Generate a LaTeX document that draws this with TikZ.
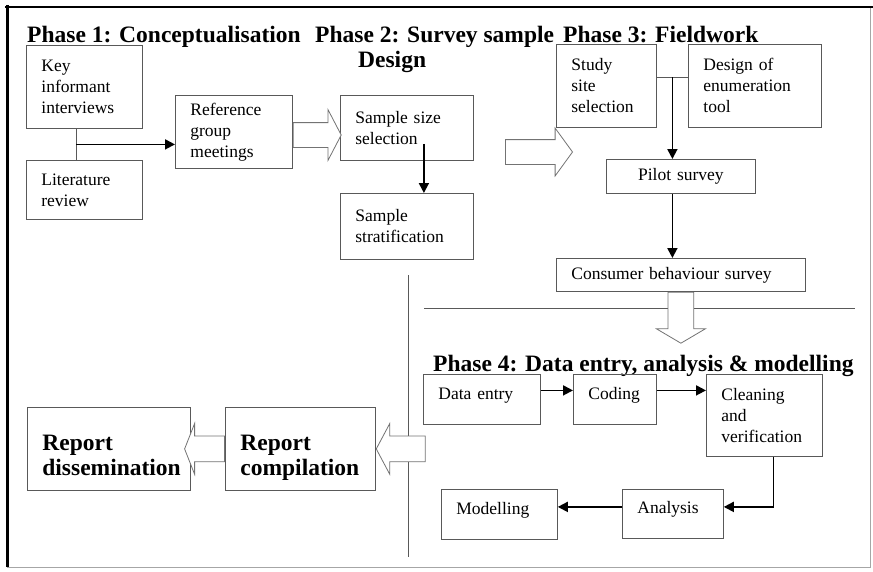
\documentclass[tikz,border=0pt]{standalone}
\usepackage{fontspec}
\setmainfont{Liberation Serif}
\usetikzlibrary{arrows.meta,shapes.arrows,calc}
\hyphenpenalty=10000
\exhyphenpenalty=10000

\begin{document}
\begin{tikzpicture}[x=1pt, y=-1pt,
      kotak/.style={draw=black!65, line width=0.8pt, anchor=north west, align=left,
        inner xsep=15pt, inner ysep=0pt, font=\fontsize{17.5}{21}\selectfont},
      naik/.style={text depth=12pt},
      judul/.style={anchor=base west, align=left, inner sep=0pt,
        font=\fontsize{23.5}{25}\selectfont\bfseries},
      panah/.style={-{Triangle[length=10pt,width=10pt]}, line width=1.8pt},
      garis/.style={draw=black!65, line width=0.8pt},
      blok/.style={single arrow, draw=black!55, line width=0.8pt, fill=white,
        inner xsep=0pt, single arrow head indent=0pt}]
    \useasboundingbox (0,0) rectangle (873,571);
    % bingkai
    \draw[black!35, line width=0.8pt] (7,7) rectangle (870,567);
    \draw[line width=3pt] (7,5) -- (7,567);
    \draw[line width=2pt] (5,7) -- (873,7);
    % judul fase
    \node[judul] (fase1) at (27,42) {Phase 1: Conceptualisation};
    \node[judul, anchor=north west] (fase2) at (315,26) {Phase 2: Survey sample\\\hspace*{43pt}Design};
    \node[judul] (fase3) at (563,42) {Phase 3: Fieldwork};
    \node[judul] (fase4) at (433,371) {Phase 4: Data entry, analysis \& modelling};
    % fase 1 dan 2
    \node[kotak, text width=86pt, minimum height=83pt] (wawancara) at (26,45) {Key\\informant\\interviews};
    \node[kotak, text width=86pt, minimum height=59pt] (literatur) at (26,160) {Literature\\review};
    \node[kotak, text width=87pt, minimum height=73pt] (rapat) at (175,95) {Reference\\group\\meetings};
    \node[kotak, text width=103pt, minimum height=65pt] (ukuran) at (340,95) {Sample size\\selection};
    \node[kotak, text width=103pt, minimum height=66pt] (strata) at (340,193) {Sample\\stratification};
    % fase 3
    \node[kotak, text width=70pt, minimum height=83pt] (lokasi) at (556,44) {Study\\site\\selection};
    \node[kotak, text width=103pt, minimum height=83pt] (alat) at (688,44) {Design of\\enumeration\\tool};
    \node[kotak, align=center, text width=119pt, minimum height=34pt] (pilot) at (606,159) {Pilot survey};
    \node[kotak, text width=219pt, minimum height=33pt] (survei) at (556,258) {Consumer behaviour survey};
    % fase 4
    \node[kotak, naik, text width=87pt, minimum height=50pt] (entri) at (423,374) {Data entry};
    \node[kotak, naik, text width=53pt, minimum height=50pt] (koding) at (573,374) {Coding};
    \node[kotak, text width=86pt, minimum height=82pt] (bersih) at (706,374) {Cleaning\\and\\verification};
    \node[kotak, naik, text width=71pt, minimum height=49pt] (analisis) at (622,489) {Analysis};
    \node[kotak, naik, text width=86pt, minimum height=50pt] (model) at (441,489) {Modelling};
    % laporan
    \node[kotak, naik, font=\fontsize{23.5}{25}\selectfont\bfseries, text width=133pt,
      minimum height=83pt] (diseminasi) at (27,407) {Report\\dissemination};
    \node[kotak, naik, font=\fontsize{23.5}{25}\selectfont\bfseries, text width=120pt,
      minimum height=83pt] (kompilasi) at (225,407) {Report\\compilation};
    % garis pemisah
    \draw[garis] (408,275) -- (408,557);
    \draw[garis] (424,308) -- (855,308);
    % penghubung
    \coordinate (pisah) at ($(wawancara.south)!0.5!(literatur.north)+(-8,0)$);
    \draw[garis] ([xshift=-8pt]wawancara.south) -- ([xshift=-8pt]literatur.north);
    \draw[panah] (pisah) -- (pisah -| rapat.west);
    \coordinate (turun) at ([xshift=17pt,yshift=17pt]ukuran.south);
    \draw[panah] (turun) -- (turun |- strata.north);
    \coordinate (sambung) at ($(lokasi.east)!0.5!(alat.west)+(0,-8.5)$);
    \draw[garis] (lokasi.east |- sambung) -- (alat.west |- sambung);
    \draw[panah] (sambung) -- (sambung |- pilot.north);
    \draw[panah] (pilot.south -| sambung) -- (survei.north -| sambung);
    \coordinate (k1) at ([yshift=9pt]koding.east);
    \draw[panah] ([yshift=9pt]entri.east) -- ([yshift=9pt]koding.west);
    \draw[panah] (k1) -- (k1 -| bersih.west);
    \draw[panah] ([xshift=9pt]bersih.south) |- ([yshift=7pt]analisis.east);
    \coordinate (a1) at ([yshift=7pt]analisis.west);
    \draw[panah] (a1) -- (a1 -| model.east);
    % panah blok
    \node[blok, anchor=tail, minimum height=48pt, inner ysep=12pt, single arrow head extend=13pt,
      single arrow tip angle=125] (blok1) at (rapat.east |- 0,135) {};
    \node[blok, anchor=tip, minimum height=67pt, inner ysep=12pt, single arrow head extend=11.5pt,
      single arrow tip angle=108] (blok2) at (573,152) {};
    \node[blok, anchor=tail, shape border rotate=270, minimum height=51pt, inner xsep=12.5pt,
      inner ysep=0pt, single arrow head extend=11.5pt, single arrow tip angle=119] (blok3) at (survei.south) {};
    \node[blok, anchor=tail, shape border rotate=180, minimum height=40pt, inner ysep=12.5pt,
      single arrow head extend=12.5pt, single arrow tip angle=137] (blok4) at (kompilasi.west) {};
    \node[blok, anchor=tip, shape border rotate=180, minimum height=49pt, inner ysep=12.5pt,
      single arrow head extend=12.5pt, single arrow tip angle=124] (blok5) at (kompilasi.east) {};
  \end{tikzpicture}
\end{document}
